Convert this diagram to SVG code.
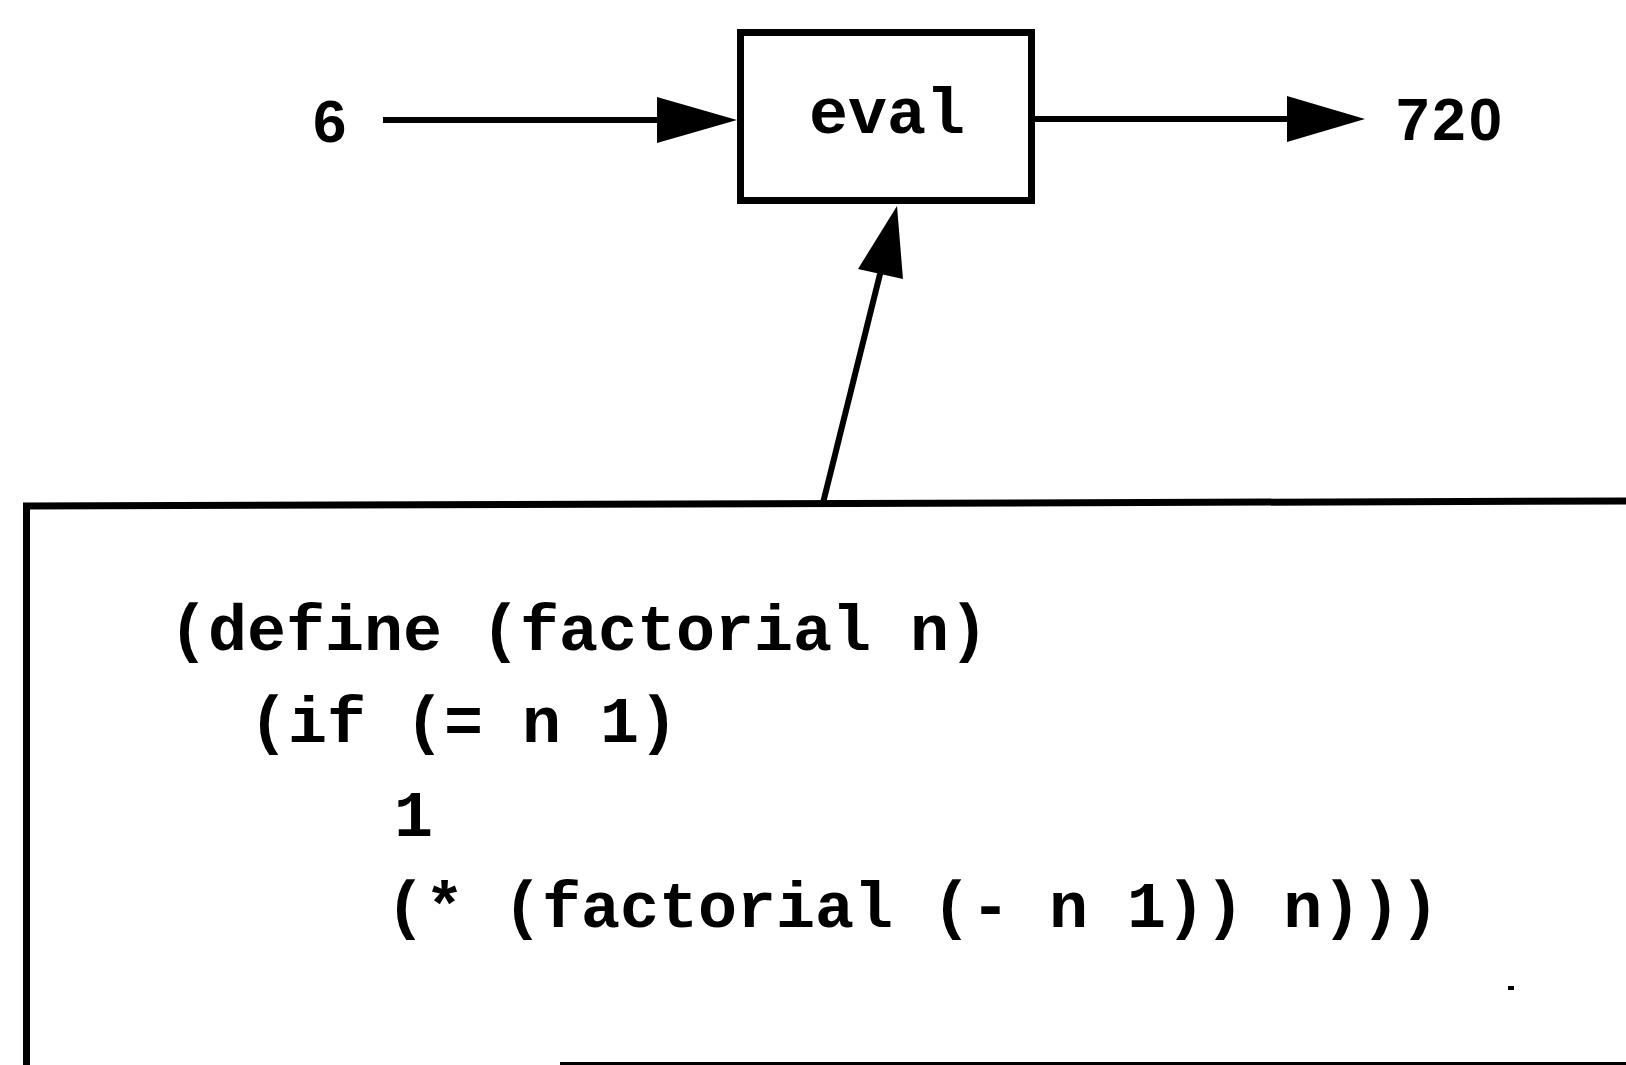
<svg xmlns="http://www.w3.org/2000/svg" width="1626" height="1065" viewBox="0 0 1626 1065">
  <style>
    .box { fill: none; stroke: #000; stroke-width: 7; }
    .edge { fill: none; stroke: #000; stroke-width: 6; }
    .head { fill: #000; stroke: none; }
    .code { font-family: "Liberation Mono", "Courier New", monospace; font-weight: bold; font-size: 65px; fill: #000; }
    .num { font-family: "Liberation Sans", Arial, sans-serif; font-weight: bold; font-size: 60px; fill: #000; }
  </style>
  <rect width="1626" height="1065" fill="#fff"/>

  <g id="input-6">
    <text class="num" x="313" y="142">6</text>
  </g>

  <g id="eval">
    <rect class="box" x="740.5" y="32.5" width="291" height="168"/>
    <text class="code" x="887" y="133" text-anchor="middle">eval</text>
  </g>

  <g id="output-720">
    <text class="num" x="1396" y="140" letter-spacing="3">720</text>
  </g>

  <g id="program">
    <path class="box" d="M26.5,1070 L26.5,506 L1632,501"/>
    <line x1="560" y1="1063.5" x2="1626" y2="1063.5" stroke="#000" stroke-width="3"/>
    <text class="code">
      <tspan x="169" y="650">(define (factorial n)</tspan>
      <tspan x="249" y="742">(if (= n 1)</tspan>
      <tspan x="394" y="836">1</tspan>
      <tspan x="386" y="927">(* (factorial (- n 1)) n)))</tspan>
    </text>
    <rect x="1508" y="986" width="6" height="4" fill="#000"/>
  </g>

  <g id="connectors">
    <line class="edge" x1="383" y1="120" x2="665" y2="120"/>
    <polygon class="head" points="657,97 737,120 657,143"/>
    <line class="edge" x1="1035" y1="119" x2="1295" y2="119"/>
    <polygon class="head" points="1287,96 1365,119 1287,142"/>
    <line class="edge" x1="823" y1="503" x2="883" y2="262"/>
    <polygon class="head" points="897,206 903,279 858,269"/>
  </g>
</svg>
